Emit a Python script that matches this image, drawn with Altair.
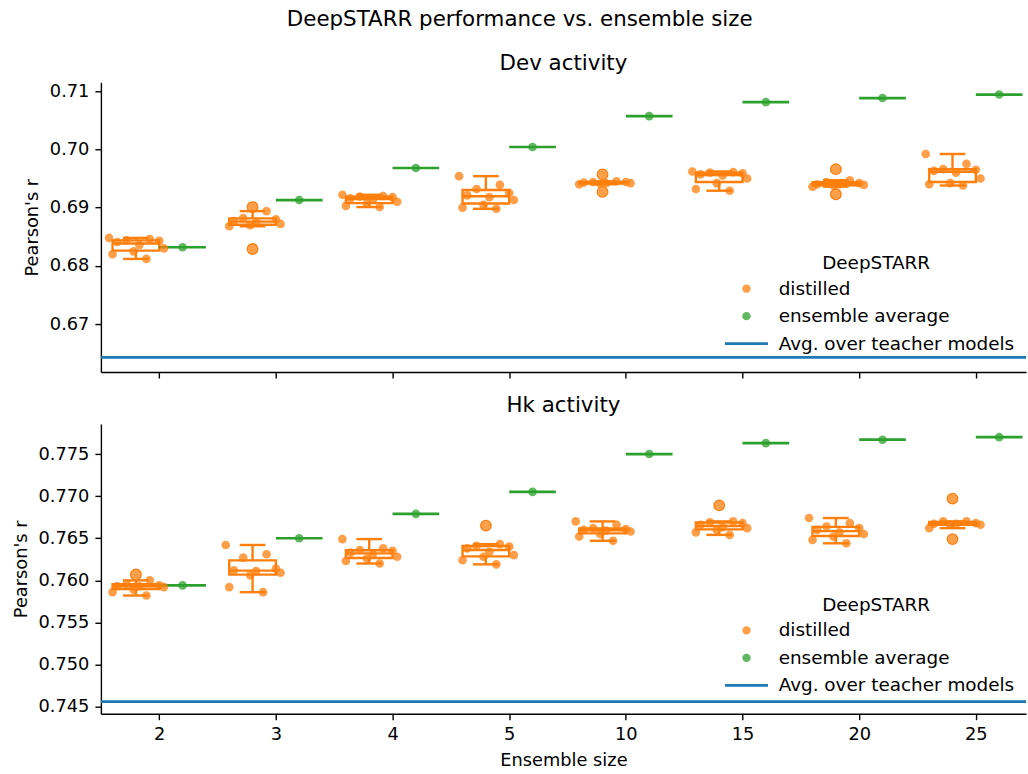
import altair as alt
import pandas as pd

# ---------------- data ----------------
SIZES = ["2", "3", "4", "5", "10", "15", "20", "25"]
KINDS = ["distilled", "ensemble average", "Avg. over teacher models"]

DEV_DISTILLED = [
    [0.6848, 0.6846, 0.6844, 0.6843, 0.6841, 0.6836, 0.6830, 0.6825, 0.6820, 0.6812],
    [0.6901, 0.6894, 0.6882, 0.6880, 0.6877, 0.6875, 0.6872, 0.6870, 0.6868, 0.6829],
    [0.6922, 0.6920, 0.6919, 0.6918, 0.6916, 0.6913, 0.6910, 0.6907, 0.6903, 0.6901],
    [0.6954, 0.6939, 0.6932, 0.6925, 0.6921, 0.6918, 0.6913, 0.6905, 0.6900, 0.6898],
    [0.6957, 0.6945, 0.6944, 0.6944, 0.6943, 0.6942, 0.6942, 0.6941, 0.6940, 0.6927],
    [0.6962, 0.6961, 0.6960, 0.6959, 0.6957, 0.6955, 0.6950, 0.6942, 0.6932, 0.6929],
    [0.6966, 0.6947, 0.6944, 0.6942, 0.6940, 0.6940, 0.6939, 0.6938, 0.6936, 0.6923],
    [0.6992, 0.6975, 0.6966, 0.6965, 0.6963, 0.6960, 0.6950, 0.6942, 0.6940, 0.6938],
]
DEV_ENSEMBLE = [0.6832, 0.6913, 0.6968, 0.7004, 0.7057, 0.7081, 0.7088, 0.7094]
DEV_TEACHER = 0.6643
DEV_TICKS = [0.67, 0.68, 0.69, 0.70, 0.71]
DEV_DOMAIN = [0.6618, 0.7115]

HK_DISTILLED = [
    [0.7607, 0.7600, 0.7596, 0.7594, 0.7593, 0.7593, 0.7592, 0.7589, 0.7586, 0.7582],
    [0.7642, 0.7631, 0.7627, 0.7614, 0.7612, 0.7611, 0.7609, 0.7606, 0.7592, 0.7586],
    [0.7649, 0.7638, 0.7636, 0.7635, 0.7633, 0.7631, 0.7628, 0.7626, 0.7623, 0.7620],
    [0.7665, 0.7643, 0.7641, 0.7640, 0.7638, 0.7634, 0.7630, 0.7628, 0.7624, 0.7619],
    [0.7670, 0.7666, 0.7662, 0.7661, 0.7660, 0.7659, 0.7658, 0.7655, 0.7652, 0.7647],
    [0.7689, 0.7670, 0.7669, 0.7668, 0.7666, 0.7663, 0.7662, 0.7660, 0.7657, 0.7654],
    [0.7674, 0.7668, 0.7664, 0.7662, 0.7660, 0.7657, 0.7655, 0.7652, 0.7648, 0.7644],
    [0.7697, 0.7670, 0.7670, 0.7668, 0.7667, 0.7667, 0.7666, 0.7666, 0.7662, 0.7649],
]
HK_ENSEMBLE = [0.7594, 0.7650, 0.7679, 0.7705, 0.7750, 0.7763, 0.7767, 0.7770]
HK_TEACHER = 0.7456
HK_TICKS = [0.745, 0.750, 0.755, 0.760, 0.765, 0.770, 0.775]
HK_DOMAIN = [0.74417, 0.77857]

# ---------------- layout / style ----------------
JITTER = [-0.23, 0.12, -0.08, 0.20, -0.16, 0.03, 0.24, -0.02, -0.20, 0.09]
BOX_W = 0.4
CAP_W = 0.22
ORANGE, GREEN, BLUE = "#ff7f0e", "#2ca02c", "#1f77b4"
FONT = "DejaVu Sans"
FS, TFS, LFS = 17.8, 21.4, 18.4
PW = 926
XDOMAIN = [-0.5, 7.43]
LEG_X, LEG_Y = 637, 172
LABEL_EXPR = "[" + ",".join(f"'{s}'" for s in SIZES) + "][datum.value]"

T_TEST = "datum.value === 'Avg. over teacher models'"
E_TEST = "datum.value === 'ensemble average'"


def make_legend():
    return alt.Legend(
        title="DeepSTARR", orient="none", legendX=LEG_X, legendY=LEG_Y, padding=0,
        titleAnchor="middle", titleFontSize=LFS, titleFontWeight="normal",
        titleColor="#000", titlePadding=7, titleFont=FONT,
        labelFontSize=LFS, labelColor="#000", labelOffset=23, labelFont=FONT,
        labelLimit=400, rowPadding=8.5,
        symbolType=alt.ExprRef(f"{T_TEST} ? 'stroke' : 'circle'"),
        symbolSize=alt.ExprRef(f"{T_TEST} ? 1849 : 70"),
        symbolStrokeWidth=alt.ExprRef(f"{T_TEST} ? 2.7 : 0"),
        symbolStrokeColor=alt.ExprRef(f"{T_TEST} ? '{BLUE}' : 'transparent'"),
        symbolFillColor=alt.ExprRef(
            f"{T_TEST} ? 'transparent' : ({E_TEST} ? '{GREEN}' : '{ORANGE}')"),
        symbolOpacity=alt.ExprRef(f"{T_TEST} ? 1 : 0.75"),
    )


def panel(title, distilled, ensemble, teacher, ydomain, yticks, yfmt, bottom):
    pts, fliers, stats, ens = [], [], [], []
    for i, vals in enumerate(distilled):
        s = pd.Series(vals, dtype=float)
        q1, med, q3 = (float(s.quantile(q)) for q in (0.25, 0.5, 0.75))
        iqr = q3 - q1
        lo = float(s[s >= q1 - 1.5 * iqr - 1e-12].min())
        hi = float(s[s <= q3 + 1.5 * iqr + 1e-12].max())
        c = i - BOX_W / 2
        stats.append(dict(left=i - BOX_W, right=float(i), c=c,
                          cap_l=c - CAP_W / 2, cap_r=c + CAP_W / 2,
                          q1=q1, q3=q3, med=med, lo=lo, hi=hi))
        for j, v in enumerate(vals):
            out = v < lo or v > hi
            if out:
                fliers.append(dict(x=c, value=v))
            pts.append(dict(kind=KINDS[0], x=c + (0.0 if out else JITTER[j]), value=v))
    for i, v in enumerate(ensemble):
        pts.append(dict(kind=KINDS[1], x=i + BOX_W / 2, value=v))
        ens.append(dict(left=float(i), right=i + BOX_W, value=v))

    pts, fliers, stats, ens = map(pd.DataFrame, (pts, fliers, stats, ens))
    teach = pd.DataFrame({"kind": [KINDS[2]], "value": [teacher]})

    xs = alt.Scale(domain=XDOMAIN, nice=False, zero=False)
    ys = alt.Scale(domain=ydomain, nice=False, zero=False)
    if bottom:
        xaxis = alt.Axis(values=list(range(len(SIZES))), labelExpr=LABEL_EXPR,
                         title="Ensemble size", labelFlush=False, labelOverlap=False)
    else:
        xaxis = alt.Axis(values=list(range(len(SIZES))), labels=False, title=None)
    yaxis = alt.Axis(values=yticks, format=yfmt, title="Pearson's r",
                     labelFlush=False, labelOverlap=False)
    cscale = alt.Scale(domain=KINDS, range=[ORANGE, GREEN, BLUE])

    def X(f):
        return alt.X(f, scale=xs, axis=xaxis)

    def Y(f):
        return alt.Y(f, scale=ys, axis=yaxis)

    teacher_rule = alt.Chart(teach).mark_rule(strokeWidth=2.7).encode(
        y=Y("value:Q"),
        color=alt.Color("kind:N", scale=cscale, legend=make_legend()),
    )
    box = alt.Chart(stats).mark_rect(fillOpacity=0, stroke=ORANGE, strokeWidth=2.4).encode(
        x=X("left:Q"), x2="right:Q", y=Y("q1:Q"), y2="q3:Q",
    )
    median = alt.Chart(stats).mark_rule(color=ORANGE, strokeWidth=2.4).encode(
        x=X("left:Q"), x2="right:Q", y=Y("med:Q"),
    )
    whisk_hi = alt.Chart(stats).mark_rule(color=ORANGE, strokeWidth=2.4).encode(
        x=X("c:Q"), y=Y("q3:Q"), y2="hi:Q",
    )
    whisk_lo = alt.Chart(stats).mark_rule(color=ORANGE, strokeWidth=2.4).encode(
        x=X("c:Q"), y=Y("lo:Q"), y2="q1:Q",
    )
    cap_hi = alt.Chart(stats).mark_rule(color=ORANGE, strokeWidth=2.4).encode(
        x=X("cap_l:Q"), x2="cap_r:Q", y=Y("hi:Q"),
    )
    cap_lo = alt.Chart(stats).mark_rule(color=ORANGE, strokeWidth=2.4).encode(
        x=X("cap_l:Q"), x2="cap_r:Q", y=Y("lo:Q"),
    )
    ens_line = alt.Chart(ens).mark_rule(color=GREEN, strokeWidth=2.7).encode(
        x=X("left:Q"), x2="right:Q", y=Y("value:Q"),
    )
    layers = [teacher_rule, box, median, whisk_hi, whisk_lo, cap_hi, cap_lo, ens_line]
    if len(fliers):
        layers.append(alt.Chart(fliers).mark_point(
            shape="circle", filled=False, stroke=ORANGE, strokeWidth=1.6, size=105, opacity=1
        ).encode(x=X("x:Q"), y=Y("value:Q")))
    layers.append(alt.Chart(pts).mark_circle(size=75, opacity=0.75).encode(
        x=X("x:Q"), y=Y("value:Q"),
        color=alt.Color("kind:N", scale=cscale, legend=make_legend()),
    ))
    return alt.layer(*layers).properties(
        width=PW, height=290,
        title=alt.TitleParams(title, fontSize=TFS, fontWeight="normal", anchor="middle",
                              font=FONT, color="#000", offset=8),
    )


top = panel("Dev activity", DEV_DISTILLED, DEV_ENSEMBLE, DEV_TEACHER,
            DEV_DOMAIN, DEV_TICKS, ".2f", False)
bot = panel("Hk activity", HK_DISTILLED, HK_ENSEMBLE, HK_TEACHER,
            HK_DOMAIN, HK_TICKS, ".3f", True)

chart = (
    alt.vconcat(top, bot, spacing=15)
    .resolve_scale(color="independent", y="independent")
    .properties(
        title=alt.TitleParams("DeepSTARR performance vs. ensemble size", fontSize=TFS,
                              fontWeight="normal", anchor="middle", font=FONT,
                              color="#000", offset=22),
        padding={"left": 12, "right": 0, "top": 8, "bottom": 0},
    )
    .configure(font=FONT)
    .configure_view(stroke=None)
    .configure_axis(
        labelFontSize=FS, titleFontSize=FS, labelFont=FONT, titleFont=FONT,
        labelColor="#000", titleColor="#000", titleFontWeight="normal",
        domainColor="#000", tickColor="#000", domainWidth=1.4, tickWidth=1.4,
        tickSize=6, labelPadding=6, titlePadding=8, grid=False,
    )
)

chart.save("out.html", embed_options={"renderer": "svg", "actions": False})
